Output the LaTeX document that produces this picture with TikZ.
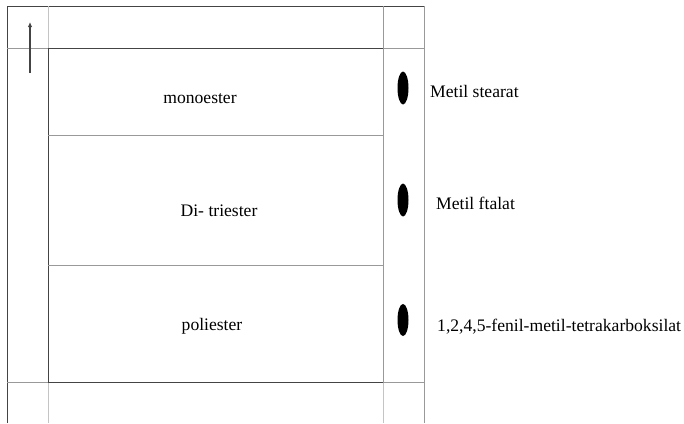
\documentclass[tikz,border=0pt]{standalone}
\usepackage{fontspec}
\setmainfont{Liberation Serif}
\usetikzlibrary{arrows.meta}
\definecolor{dk}{HTML}{444444}
\definecolor{md}{HTML}{999999}
\definecolor{lt}{HTML}{C4C4C4}
\tikzset{
  lbl/.style={font=\fontsize{17.6}{20}\selectfont, inner sep=0pt, anchor=base},
  side/.style={lbl, anchor=base west},
  spot/.style={fill=black, draw=none},
  dkline/.style={draw=dk, line width=1pt},
  mdline/.style={draw=md, line width=1pt},
  ltline/.style={draw=lt, line width=1pt}
}
\begin{document}
\begin{tikzpicture}[x=1pt,y=-1pt]
\useasboundingbox (0,0) rectangle (684,423);
% outer frame
\draw[dkline] (7,423) -- (7,6) -- (424,6);
\draw[mdline] (424,6) -- (424,423);
% grid lines outside main box
\draw[ltline] (48,6) -- (48,48);
\draw[ltline] (48,382) -- (48,423);
\draw[mdline] (383,6) -- (383,48);
\draw[ltline] (383,382) -- (383,423);
\draw[mdline] (7,48) -- (48,48);
\draw[mdline] (383,48) -- (424,48);
\draw[mdline] (7,382) -- (48,382);
\draw[mdline] (383,382) -- (424,382);
% main box
\draw[mdline] (383,48) -- (383,382);
\draw[dkline] (383,48) -- (48,48) -- (48,382) -- (383,382);
\draw[mdline] (48,135) -- (383,135);
\draw[mdline] (48,265) -- (383,265);
% arrow
\coordinate (a0) at (30,73);
\coordinate (a1) at (30,22);
\draw[draw=dk, line width=1.3pt, -{Latex[length=5pt,width=4.5pt]}] (a0) -- (a1);
% texts in box
\node[lbl] (mono) at (200,103) {monoester};
\node[lbl] (di) at (219,216) {Di- triester};
\node[lbl] (poli) at (212,330) {poliester};
% spots
\fill[spot] (403,88) ellipse (5.5pt and 16.5pt);
\fill[spot] (403,200) ellipse (5.5pt and 16.5pt);
\fill[spot] (403,320) ellipse (5.5pt and 16pt);
% side labels
\node[side] (ms) at (430,97) {Metil stearat};
\node[side] (mf) at (436,209) {Metil ftalat};
\node[side] (fm) at (437,331) {1,2,4,5-fenil-metil-tetrakarboksilat};
\end{tikzpicture}
\end{document}
